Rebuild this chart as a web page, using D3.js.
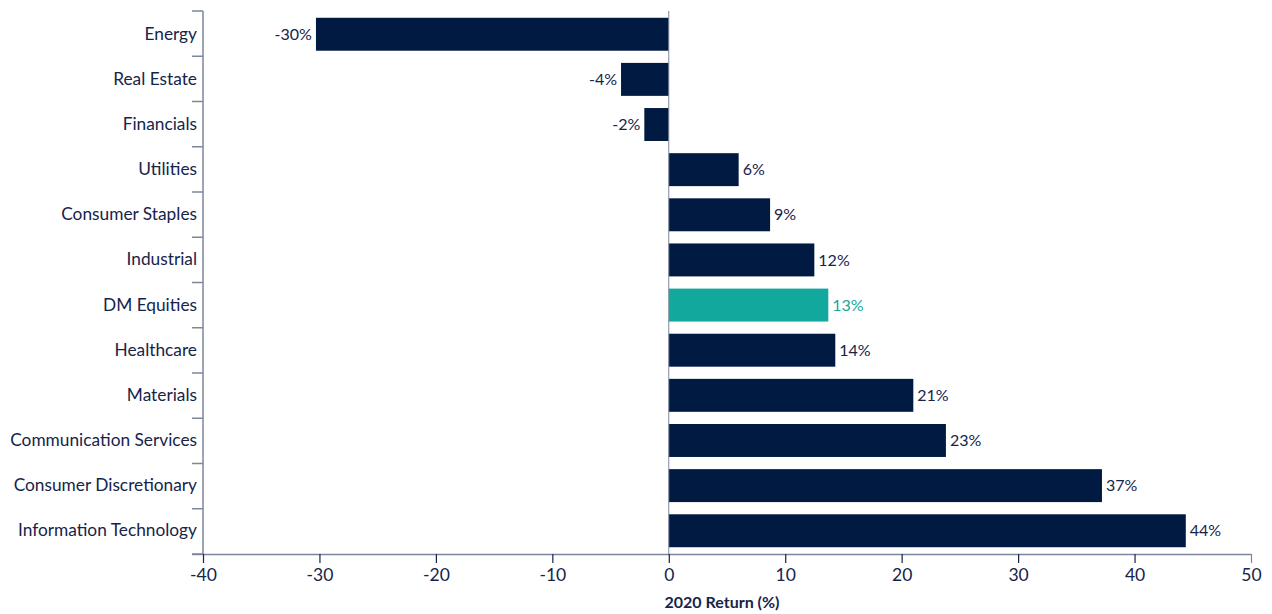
<!DOCTYPE html>
<html>
<head>
<meta charset="utf-8">
<script src="https://cdn.jsdelivr.net/npm/d3@7"></script>
<style>
  body { margin: 0; background: #ffffff; }
  svg { display: block; font-family: Lato, "Open Sans", sans-serif; }
</style>
</head>
<body>
<svg id="chart" width="1272" height="614"></svg>
<script>
// Sector returns for 2020, top to bottom
const sectors = [
  "Energy", "Real Estate", "Financials", "Utilities", "Consumer Staples",
  "Industrial", "DM Equities", "Healthcare", "Materials",
  "Communication Services", "Consumer Discretionary", "Information Technology"
];
const returns = [-30.3, -4.1, -2.1, 6.0, 8.7, 12.5, 13.7, 14.3, 21.0, 23.8, 37.2, 44.4];
const valueLabels = ["-30%", "-4%", "-2%", "6%", "9%", "12%", "13%", "14%", "21%", "23%", "37%", "44%"];
const highlight = "DM Equities";
const xTicks = [-40, -30, -20, -10, 0, 10, 20, 30, 40, 50];
const xTitle = "2020 Return (%)";

const navy = "#001a42";
const teal = "#13a89e";
const textColor = "#16244a";
const axisColor = "#7d879c";

const svg = d3.select("#chart");
const plotLeft = 203, plotRight = 1251, plotTop = 11, plotBottom = 554;

const x = d3.scaleLinear().domain([-40, 50]).range([plotLeft, plotRight]);
const y = d3.scaleBand().domain(sectors).range([plotTop, plotBottom]).paddingInner(0.27).paddingOuter(0.15);

// Bars
svg.append("g").selectAll("rect")
  .data(sectors)
  .join("rect")
  .attr("x", (d, i) => x(Math.min(0, returns[i])))
  .attr("width", (d, i) => Math.abs(x(returns[i]) - x(0)))
  .attr("y", d => y(d))
  .attr("height", y.bandwidth())
  .attr("fill", d => d === highlight ? teal : navy);

// Zero line
svg.append("line")
  .attr("x1", x(0)).attr("x2", x(0))
  .attr("y1", plotTop).attr("y2", plotBottom)
  .attr("stroke", axisColor).attr("stroke-width", 1);

// Value labels
svg.append("g").selectAll("text")
  .data(sectors)
  .join("text")
  .attr("x", (d, i) => returns[i] < 0 ? x(returns[i]) - 4 : x(returns[i]) + 4)
  .attr("y", d => y(d) + y.bandwidth() / 2)
  .attr("dy", "0.35em")
  .attr("text-anchor", (d, i) => returns[i] < 0 ? "end" : "start")
  .attr("font-size", 16)
  .attr("fill", d => d === highlight ? teal : textColor)
  .text((d, i) => valueLabels[i]);

// Category axis: boundary ticks between bands
const boundaries = d3.range(sectors.length + 1).map(i => plotTop + i * (plotBottom - plotTop) / sectors.length);
const yAxis = svg.append("g");
yAxis.append("line")
  .attr("x1", plotLeft).attr("x2", plotLeft).attr("y1", plotTop).attr("y2", plotBottom)
  .attr("stroke", axisColor).attr("stroke-width", 1.5);
yAxis.selectAll("line.tick")
  .data(boundaries)
  .join("line")
  .attr("class", "tick")
  .attr("x1", plotLeft - 11).attr("x2", plotLeft)
  .attr("y1", d => d).attr("y2", d => d)
  .attr("stroke", axisColor).attr("stroke-width", 1.5);
yAxis.selectAll("text")
  .data(sectors)
  .join("text")
  .attr("x", plotLeft - 6)
  .attr("y", d => y(d) + y.bandwidth() / 2)
  .attr("dy", "0.32em")
  .attr("text-anchor", "end")
  .attr("font-size", 17.3)
  .attr("fill", textColor)
  .text(d => d);

// Value axis
const xAxis = svg.append("g").attr("transform", `translate(0,${plotBottom})`)
  .call(d3.axisBottom(x).tickValues(xTicks).tickSize(9).tickSizeOuter(0).tickFormat(d3.format("d")));
xAxis.select(".domain").attr("stroke", axisColor).attr("stroke-width", 1.5)
  .attr("d", `M${plotLeft - 11},0.5H${plotRight}`);
xAxis.selectAll(".tick line").attr("stroke", textColor).attr("stroke-width", 1.2);
xAxis.selectAll(".tick").filter(d => d === 50).select("line").attr("stroke", axisColor);
xAxis.selectAll(".tick text")
  .attr("font-family", "Lato, 'Open Sans', sans-serif")
  .attr("font-size", 17.5)
  .attr("fill", textColor)
  .attr("y", 15)
  .text(d => d < 0 ? "-" + Math.abs(d) : d);

svg.append("text")
  .attr("x", 722)
  .attr("y", 608)
  .attr("text-anchor", "middle")
  .attr("font-size", 16)
  .attr("font-weight", "bold")
  .attr("fill", textColor)
  .text(xTitle);
</script>
</body>
</html>
